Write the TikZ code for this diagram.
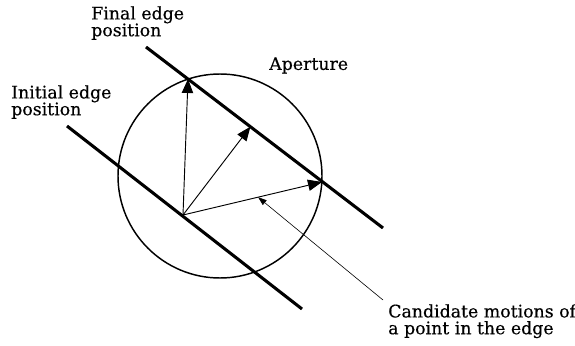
\documentclass[tikz,border=0pt]{standalone}
\usepackage{fontspec}
\setmainfont{DejaVu Serif}
\newfontfamily\labelfont[FakeBold=0.4]{DejaVu Serif}
\usetikzlibrary{arrows.meta,calc}

\begin{document}
\begin{tikzpicture}[x=0.75pt, y=-0.75pt,
  font=\labelfont\fontsize{13}{12.6}\selectfont,
  edge/.style={line width=2.3pt},
  motion/.style={-{Triangle[length=10.5pt,width=8.5pt]}, line width=.7pt},
  pointer/.style={-{Triangle[length=6.5pt,width=4.5pt]}, line width=.45pt},
  lbl/.style={align=left, inner sep=0pt, anchor=north west}
]
  \useasboundingbox (0,0) rectangle (575,346);

  \node[draw, circle, line width=1.1pt, minimum size=153pt, inner sep=0pt] (aperture) at (220,176) {};

  % edge positions
  \coordinate (finalA) at (146,47);
  \coordinate (finalB) at (383,228);
  \coordinate (initA) at (67,126);
  \coordinate (initB) at (302,309);
  \draw[edge] (finalA) -- (finalB);
  \draw[edge] (initA) -- (initB);

  % candidate motions
  \coordinate (start) at (183,215);
  \coordinate (upTip) at (188,79);
  \coordinate (normTip) at ($(finalA)!(start)!(finalB)$);
  \coordinate (sideTip) at (322,182);
  \draw[motion] (start) -- (upTip);
  \draw[motion] (start) -- (normTip);
  \draw[motion] (start) -- (sideTip);

  \node[lbl] (finalLbl) at (91,6) {Final edge\\position};
  \node[lbl] (initLbl) at (11,85) {Initial edge\\position};
  \node[lbl] (apertureLbl) at (269,57) {Aperture};
  \node[lbl] (candLbl) at (388,304) {Candidate motions of\\a point in the edge};

  \coordinate (hit) at ($(start)!.54!(sideTip)$);
  \draw[pointer] ([shift={(-5,-4)}]candLbl.north west) -- (hit);
\end{tikzpicture}
\end{document}
